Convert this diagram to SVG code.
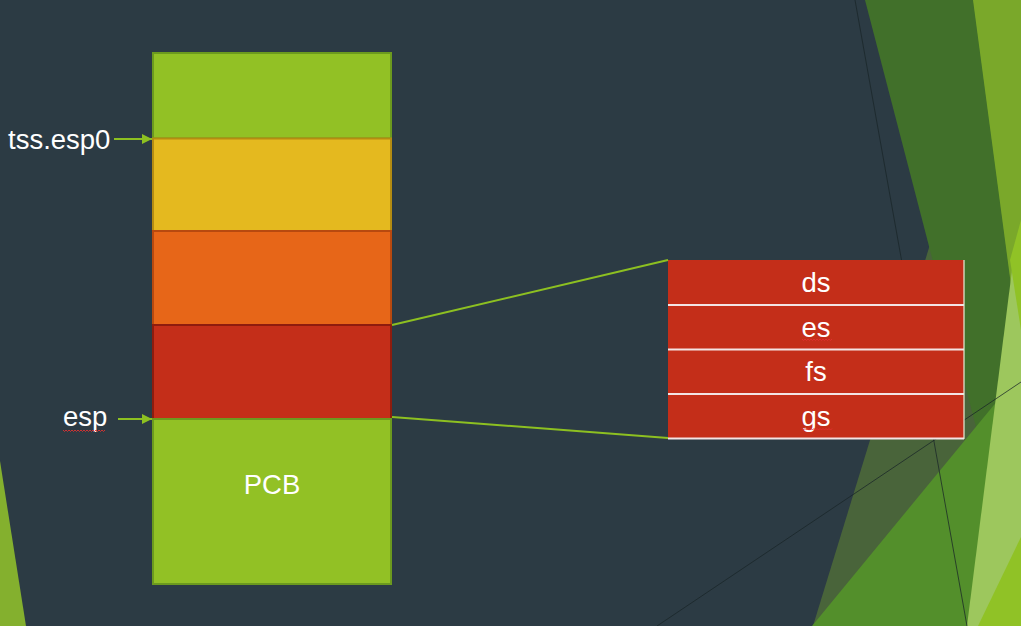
<svg xmlns="http://www.w3.org/2000/svg" width="1021" height="626" viewBox="0 0 1021 626">
<defs>
<style>
.lbl{font-family:"Liberation Sans",Arial,sans-serif;font-size:27.5px;fill:#ffffff}
.mid{text-anchor:middle}
.end{text-anchor:end}
.conn{stroke:#8dc021;stroke-width:2;fill:none}
.thin{stroke:#1a2528;stroke-width:1;stroke-opacity:0.75;fill:none}
.sep{stroke:#f3e4e4;stroke-width:2}
.squig{stroke:#e23030;stroke-width:0.9;fill:none}
</style>
<marker id="arr" viewBox="0 0 10 10" refX="10" refY="5" markerWidth="10" markerHeight="10" markerUnits="userSpaceOnUse" orient="auto">
<path d="M0,0 L10,5 L0,10 z" fill="#8dc021"/>
</marker>
</defs>
<rect x="0" y="0" width="1021" height="626" fill="#2c3b44"/>
<g id="decor">
<polygon points="0,461 26,626 0,626" fill="#84b02e"/>
<polygon points="1005,0 1021,0 1021,626 813,626" fill="#90c226" fill-opacity="0.3"/>
<polygon points="865,0 1021,0 1021,600" fill="#41702a"/>
<polygon points="812,626 1021,372 1021,626" fill="#538f2b"/>
<polygon points="973,0 1021,0 1021,360" fill="#7aa82a"/>
<polygon points="1021,230 1021,626 967,626 1012,270" fill="#9dc75d"/>
<polygon points="1021,220 1010,260 1021,330" fill="#90c226"/>
<polygon points="978,626 1021,537 1021,626" fill="#90c226"/>
<line class="thin" x1="855" y1="0" x2="967" y2="626"/>
<line class="thin" x1="657" y1="626" x2="1021" y2="382"/>
</g>
<g id="stack">
<rect x="153" y="53" width="238" height="85.5" fill="#92c125" stroke="#6c9a1e" stroke-width="2"/>
<rect x="153" y="138.5" width="238" height="92.5" fill="#e4b91f" stroke="#b48c12" stroke-width="2"/>
<rect x="153" y="231" width="238" height="94" fill="#e76618" stroke="#b8490f" stroke-width="2"/>
<rect x="153" y="325" width="238" height="94" fill="#c42e19" stroke="#8e1c0e" stroke-width="2"/>
<g id="pcb">
<rect x="153" y="419" width="238" height="165" fill="#92c125" stroke="#6c9a1e" stroke-width="2"/>
<text class="lbl mid" x="272" y="494">PCB</text>
</g>
</g>
<g id="label-tss">
<text class="lbl" x="8" y="149">tss.esp0</text>
</g>
<g id="label-esp">
<text class="lbl" x="63" y="426">esp</text>
<path class="squig" d="M63,430 l1.5,1.5 l1.5,-1.5 l1.5,1.5 l1.5,-1.5 l1.5,1.5 l1.5,-1.5 l1.5,1.5 l1.5,-1.5 l1.5,1.5 l1.5,-1.5 l1.5,1.5 l1.5,-1.5 l1.5,1.5 l1.5,-1.5 l1.5,1.5 l1.5,-1.5 l1.5,1.5 l1.5,-1.5 l1.5,1.5 l1.5,-1.5 l1.5,1.5 l1.5,-1.5 l1.5,1.5 l1.5,-1.5 l1.5,1.5 l1.5,-1.5 l1.5,1.5 l1.5,-1.5"/>
</g>
<g id="segtable">
<rect x="668" y="260" width="296" height="178" fill="#c42e19"/>
<line class="sep" x1="668" y1="305" x2="964" y2="305"/>
<line class="sep" x1="668" y1="349.5" x2="964" y2="349.5"/>
<line class="sep" x1="668" y1="394" x2="964" y2="394"/>
<line class="sep" x1="668" y1="438.5" x2="964" y2="438.5"/>
<line x1="964" y1="260" x2="964" y2="439" stroke="#e8eed8" stroke-width="1.2"/>
<text class="lbl mid" x="816" y="292">ds</text>
<text class="lbl mid" x="816" y="336.5">es</text>
<text class="lbl mid" x="816" y="381">fs</text>
<text class="lbl mid" x="816" y="425.5">gs</text>
<path class="squig" d="M802,339 l1.5,1.5 l1.5,-1.5 l1.5,1.5 l1.5,-1.5 l1.5,1.5 l1.5,-1.5 l1.5,1.5 l1.5,-1.5 l1.5,1.5 l1.5,-1.5 l1.5,1.5 l1.5,-1.5 l1.5,1.5 l1.5,-1.5 l1.5,1.5 l1.5,-1.5 l1.5,1.5 l1.5,-1.5 l1.5,1.5 l1.5,-1.5"/>
<path class="squig" d="M802,428.5 l1.5,1.5 l1.5,-1.5 l1.5,1.5 l1.5,-1.5 l1.5,1.5 l1.5,-1.5 l1.5,1.5 l1.5,-1.5 l1.5,1.5 l1.5,-1.5 l1.5,1.5 l1.5,-1.5 l1.5,1.5 l1.5,-1.5 l1.5,1.5 l1.5,-1.5 l1.5,1.5 l1.5,-1.5 l1.5,1.5 l1.5,-1.5"/>
</g>
<g id="connectors">
<line class="conn" x1="114" y1="139" x2="152" y2="139" marker-end="url(#arr)"/>
<line class="conn" x1="118" y1="419" x2="152" y2="419" marker-end="url(#arr)"/>
<line class="conn" x1="392" y1="325" x2="668" y2="260"/>
<line class="conn" x1="392" y1="417" x2="668" y2="438"/>
</g>
</svg>
